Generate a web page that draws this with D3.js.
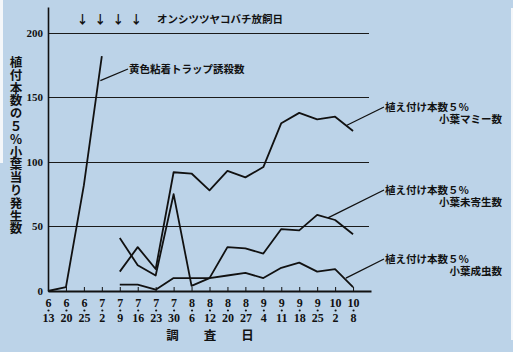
<!DOCTYPE html>
<html>
<head>
<meta charset="utf-8">
<script src="https://cdn.jsdelivr.net/npm/d3@7"></script>
<style>
	body { margin: 0; background: #bcd3e8; }
	svg { display: block; }
	.jp { font-family: 'Noto Sans CJK JP', sans-serif; font-weight: bold; fill: #111; }
	.num { font-family: 'Liberation Serif', 'DejaVu Serif', serif; font-weight: bold; fill: #111; }
	.vert { writing-mode: vertical-rl; text-orientation: upright; }
</style>
</head>
<body>
<script>
// 調査日
const dates = ['6/13', '6/20', '6/25', '7/2', '7/9', '7/16', '7/23', '7/30', '8/6', '8/12', '8/20', '8/27', '9/4', '9/11', '9/18', '9/25', '10/2', '10/8']
// オンシツツヤコバチ放飼日
const releases = ['6/25', '7/2', '7/9', '7/16']
const yTicks = [0, 50, 100, 150, 200]

const trap   = [0, 3, 82, 182, null, null, null, null, null, null, null, null, null, null, null, null, null, null]
const mummy  = [null, null, null, null, 15, 34, 17, 92, 91, 78, 93, 88, 96, 130, 138, 133, 135, 124]
const unpara = [null, null, null, null, 41, 20, 12, 75, 4, 10, 34, 33, 29, 48, 47, 59, 55, 44]
const adult  = [null, null, null, null, 5, 5, 1, 10, 10, 10, 12, 14, 10, 18, 22, 15, 17, 3]

const W = 513, H = 352

const x = d3.scaleLinear()
	.domain([0, dates.length])
	.range([48, 371])

const y = d3.scaleLinear()
	.domain([0, 220])
	.range([291, 7])

const svg = d3.select('body')
	.append('svg')
	.attr('width', W)
	.attr('height', H)

svg.append('rect').attr('width', W).attr('height', H).attr('fill', '#bcd3e8')
// scan edges
svg.append('rect').attr('x', 0).attr('y', 0).attr('width', 3).attr('height', 163).attr('fill', '#f4f7fa')
svg.append('rect').attr('x', 511).attr('y', 8).attr('width', 2).attr('height', 332).attr('fill', '#f4f7fa')

// grid
svg.append('g')
	.selectAll('line')
	.data(yTicks.filter(d => d > 0))
	.enter()
	.append('line')
	.attr('x1', x(0))
	.attr('x2', x(dates.length) - 2)
	.attr('y1', d => Math.round(y(d)) + 0.5)
	.attr('y2', d => Math.round(y(d)) + 0.5)
	.attr('stroke', '#1a1a1a')
	.attr('stroke-width', 1.2)

// y axis
const yAxis = svg.append('g')
	.attr('transform', `translate(${x(0)},0)`)
	.call(d3.axisLeft(y).tickValues(yTicks).tickSize(0).tickPadding(5))
yAxis.select('.domain').attr('stroke', '#111').attr('stroke-width', 1.6)
yAxis.selectAll('text').attr('class', 'num').attr('font-size', 11).attr('fill', '#111')

// x axis
const xAxis = svg.append('g')
	.attr('transform', `translate(0,${y(0)})`)
	.call(d3.axisBottom(x).tickValues(d3.range(dates.length)).tickSize(-4).tickSizeOuter(0).tickFormat(''))
xAxis.select('.domain').attr('stroke', '#111').attr('stroke-width', 2)
xAxis.selectAll('.tick line').attr('stroke', '#111').attr('stroke-width', 1)

const tick = xAxis.selectAll('.tick')
tick.append('text')
	.attr('class', 'num')
	.attr('font-size', 12)
	.attr('text-anchor', 'middle')
	.attr('y', 16)
	.text(i => dates[i].split('/')[0])
tick.append('circle')
	.attr('cy', 19.5)
	.attr('r', 1.1)
	.attr('fill', '#111')
tick.append('text')
	.attr('class', 'num')
	.attr('font-size', 12)
	.attr('text-anchor', 'middle')
	.attr('y', 31)
	.text(i => dates[i].split('/')[1])

svg.append('text')
	.attr('class', 'jp')
	.attr('font-size', 12.5)
	.attr('text-anchor', 'middle')
	.attr('x', 210)
	.attr('y', 340)
	.text('調　　査　　日')

// y label, written vertically
svg.append('text')
	.attr('class', 'jp vert')
	.attr('font-size', 12.5)
	.attr('letter-spacing', 0.3)
	.attr('x', 16)
	.attr('y', 56)
	.text('植付本数の５％小葉当り発生数')

// release arrows
svg.append('g')
	.selectAll('text')
	.data(releases)
	.enter()
	.append('text')
	.attr('class', 'jp')
	.attr('font-size', 12)
	.attr('font-weight', 'normal')
	.attr('text-anchor', 'middle')
	.attr('x', d => x(dates.indexOf(d)) - 1.5)
	.attr('y', 24)
	.text('↓')

svg.append('text')
	.attr('class', 'jp')
	.attr('font-size', 10.5)
	.attr('x', 157)
	.attr('y', 23)
	.text('オンシツツヤコバチ放飼日')

// series
const line = d3.line()
	.defined(d => d != null)
	.x((d, i) => x(i))
	.y(d => y(d))

const series = [trap, mummy, unpara, adult]
svg.append('g')
	.selectAll('path')
	.data(series)
	.enter()
	.append('path')
	.attr('d', line)
	.attr('fill', 'none')
	.attr('stroke', '#111')
	.attr('stroke-width', 1.8)
	.attr('stroke-linejoin', 'round')

// annotations
const notes = [
	{ at: 3, v: 163, dx: -1.5, lx: 128, ly: 69, lines: ['黄色粘着トラップ誘殺数'] },
	{ at: 16.6, v: 128, dx: 0, lx: 384, ly: 107, lines: ['植え付け本数５％', '小葉マミー数'] },
	{ at: 15.6, v: 56.6, dx: 0, lx: 384, ly: 190, lines: ['植え付け本数５％', '小葉未寄生数'] },
	{ at: 16.6, v: 10, dx: 0, lx: 384, ly: 259, lines: ['植え付け本数５％', '小葉成虫数'] }
]

const note = svg.append('g')
	.selectAll('g')
	.data(notes)
	.enter()
	.append('g')

note.append('line')
	.attr('x1', d => x(d.at) + d.dx)
	.attr('y1', d => y(d.v))
	.attr('x2', d => d.lx)
	.attr('y2', d => d.ly)
	.attr('stroke', '#111')
	.attr('stroke-width', 1.3)

note.append('text')
	.attr('class', 'jp')
	.attr('font-size', 10.5)
	.attr('x', d => d.lx + 1)
	.attr('y', d => d.ly + 4)
	.text(d => d.lines[0])

note.filter(d => d.lines.length > 1)
	.append('text')
	.attr('class', 'jp')
	.attr('font-size', 10.5)
	.attr('text-anchor', 'end')
	.attr('x', 502)
	.attr('y', d => d.ly + 16)
	.text(d => d.lines[1])
</script>
</body>
</html>
